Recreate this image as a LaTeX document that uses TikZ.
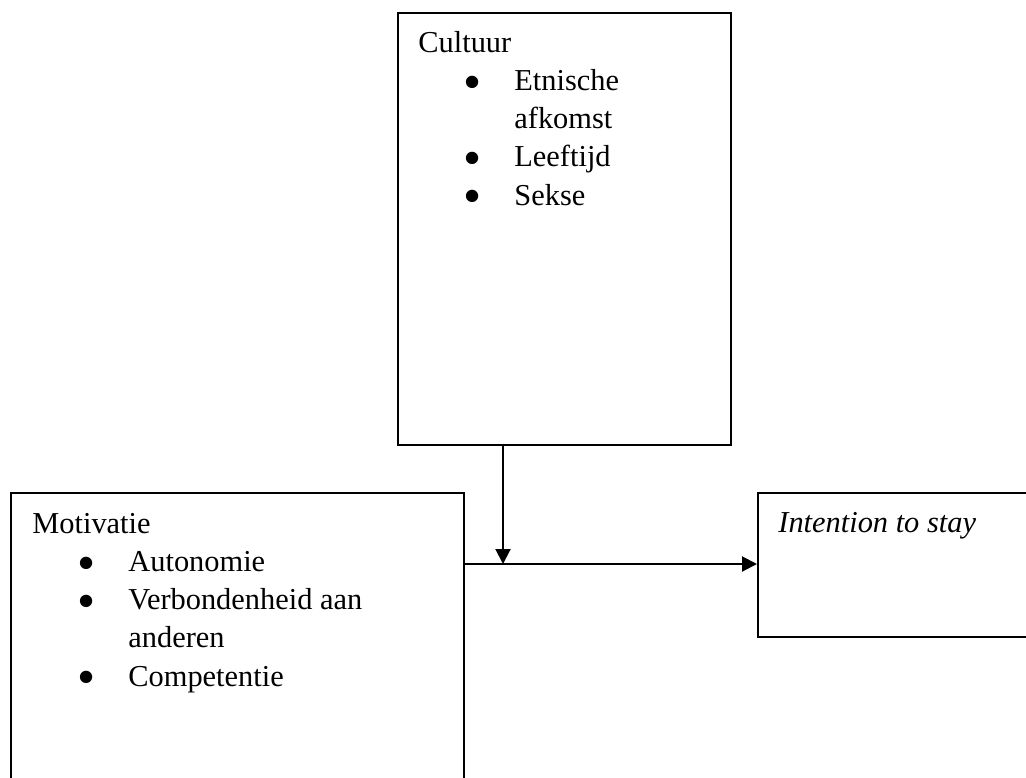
\documentclass[tikz,border=0pt]{standalone}
\usepackage{fontspec}
\setmainfont{Liberation Serif}
\usetikzlibrary{arrows.meta}
\tikzset{
box/.style={draw, line width=1pt, rectangle, inner sep=0pt, anchor=north west},
boxtext/.style={inner sep=0pt, align=left, anchor=base west,
	font=\fontsize{15.2}{19.1}\selectfont},
flow/.style={line width=1pt, -{Triangle[length=7.5pt,width=7.5pt]}}
}
\newcommand{\itm}[1]{\hspace*{22.5pt}\makebox[25.5pt][l]{\raisebox{-4.4pt}[0pt][0pt]{\scalebox{1.7}{\textbullet}}}#1}
\newcommand{\cont}[1]{\hspace*{48pt}#1}

\begin{document}
\begin{tikzpicture}[x=0.5pt, y=-0.5pt]
	\useasboundingbox (0,0) rectangle (1026,777);
	\clip (0,0) rectangle (1026,777);
	% boxes
	\node[box, minimum width=166.5pt, minimum height=216pt] (cultuur) at (397,12) {};
	\node[box, minimum width=226.5pt, minimum height=154pt] (motivatie) at (10,492) {};
	\node[box, minimum width=141.5pt, minimum height=72pt] (intention) at (757,492) {};
	% texts (anchored on their last line)
	\node[boxtext] (cultuurtxt) at (418,205) {Cultuur\\ \itm{Etnische}\\ \cont{afkomst}\\ \itm{Leeftijd}\\ \itm{Sekse}};
	\node[boxtext] (motivatietxt) at (32,686) {Motivatie\\ \itm{Autonomie}\\ \itm{Verbondenheid aan}\\ \cont{anderen}\\ \itm{Competentie}};
	\node[boxtext, font=\fontsize{15.2}{19.1}\selectfont\itshape] (intentiontxt) at (778,532) {Intention to stay};
	% arrows
	\coordinate (join) at (503,564);
	\draw[flow] (cultuur.south -| join) -- (join);
	\draw[flow] (motivatie.east |- join) -- (intention.west |- join);
\end{tikzpicture}
\end{document}
